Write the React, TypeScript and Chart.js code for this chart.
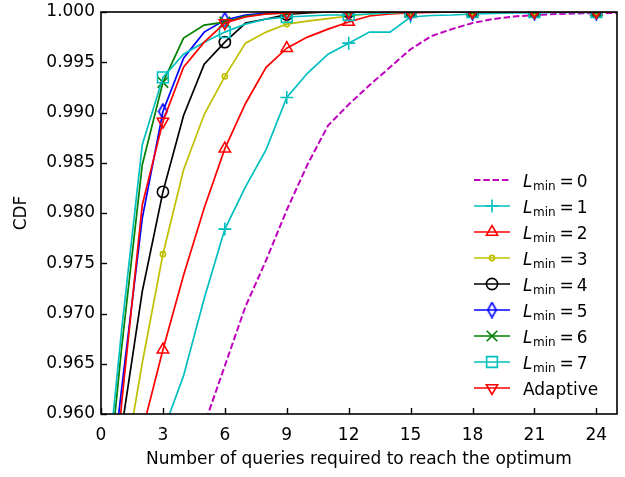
import React, { useEffect, useRef } from "react";
import { Chart, registerables } from "chart.js";
import { drawPoint } from "chart.js/helpers";

Chart.register(...registerables);

const queries = [0, 1, 2, 3, 4, 5, 6, 7, 8, 9, 10, 11, 12, 13, 14, 15, 16, 17, 18, 19, 20, 21, 22, 23, 24, 25];
const xTicks = [0, 3, 6, 9, 12, 15, 18, 21, 24];
const yTicks = [0.96, 0.965, 0.97, 0.975, 0.98, 0.985, 0.99, 0.995, 1.0];

const cdfLmin0 = [0.905, 0.915, 0.926, 0.938, 0.951, 0.9589, 0.9648, 0.9707, 0.9753, 0.9803, 0.9848, 0.9887, 0.9908, 0.9927, 0.9945, 0.9963, 0.9976, 0.9983, 0.9989, 0.9993, 0.99955, 0.9997, 0.9998, 0.99985, 0.9999, 0.9999];
const cdfLmin1 = [0.915, 0.928, 0.943, 0.9582, 0.9638, 0.9715, 0.9784, 0.9826, 0.9863, 0.9915, 0.9939, 0.9958, 0.9969, 0.998, 0.998, 0.9995, 0.99965, 0.9997, 0.9998, 0.99985, 0.9999, 0.9999, 0.99995, 0.99995, 0.99995, 1.0];
const cdfLmin2 = [0.918, 0.94, 0.9583, 0.9664, 0.9738, 0.9805, 0.9864, 0.9909, 0.9945, 0.9964, 0.9975, 0.9983, 0.999, 0.9996, 0.9998, 0.9999, 0.99995, 1.0, 1.0, 1.0, 1.0, 1.0, 1.0, 1.0, 1.0, 1.0];
const cdfLmin3 = [0.935, 0.953, 0.9651, 0.9759, 0.9843, 0.9898, 0.9936, 0.9969, 0.998, 0.9988, 0.9991, 0.99935, 0.9996, 0.9998, 0.9999, 1.0, 1.0, 1.0, 1.0, 1.0, 1.0, 1.0, 1.0, 1.0, 1.0, 1.0];
const cdfLmin4 = [0.94, 0.9585, 0.9722, 0.9821, 0.9897, 0.9948, 0.997, 0.9989, 0.9993, 0.99975, 0.9999, 1.0, 1.0, 1.0, 1.0, 1.0, 1.0, 1.0, 1.0, 1.0, 1.0, 1.0, 1.0, 1.0, 1.0, 1.0];
const cdfLmin5 = [0.945, 0.9625, 0.9795, 0.9901, 0.9954, 0.998, 0.9992, 0.9997, 0.9999, 1.0, 1.0, 1.0, 1.0, 1.0, 1.0, 1.0, 1.0, 1.0, 1.0, 1.0, 1.0, 1.0, 1.0, 1.0, 1.0, 1.0];
const cdfLmin6 = [0.946, 0.9666, 0.9848, 0.993, 0.9974, 0.9987, 0.999, 0.9996, 0.9998, 0.9999, 1.0, 1.0, 1.0, 1.0, 1.0, 1.0, 1.0, 1.0, 1.0, 1.0, 1.0, 1.0, 1.0, 1.0, 1.0, 1.0];
const cdfLmin7 = [0.9477, 0.9684, 0.9868, 0.9935, 0.9958, 0.997, 0.998, 0.9988, 0.9993, 0.9995, 0.9996, 0.9997, 0.9997, 0.9998, 0.9999, 1.0, 1.0, 1.0, 1.0, 1.0, 1.0, 1.0, 1.0, 1.0, 1.0, 1.0];
const cdfAdaptive = [0.935, 0.9611, 0.9808, 0.9891, 0.9945, 0.997, 0.9989, 0.9995, 0.9998, 0.9999, 1.0, 1.0, 1.0, 1.0, 1.0, 1.0, 1.0, 1.0, 1.0, 1.0, 1.0, 1.0, 1.0, 1.0, 1.0, 1.0];

const seriesNames = ["0", "1", "2", "3", "4", "5", "6", "7", "Adaptive"];
const seriesValues = [cdfLmin0, cdfLmin1, cdfLmin2, cdfLmin3, cdfLmin4, cdfLmin5, cdfLmin6, cdfLmin7, cdfAdaptive];

const FONT = '"DejaVu Sans", sans-serif';

export default function App() {
  const ref = useRef<HTMLCanvasElement>(null);

  useEffect(() => {
    document.body.style.margin = "0";
    const diamond = document.createElement("canvas");
    diamond.width = 11;
    diamond.height = 17;
    const dctx = diamond.getContext("2d")!;
    dctx.strokeStyle = "#0000ff";
    dctx.lineWidth = 1.6;
    dctx.beginPath();
    dctx.moveTo(5.5, 1);
    dctx.lineTo(9.7, 8.5);
    dctx.lineTo(5.5, 16);
    dctx.lineTo(1.3, 8.5);
    dctx.closePath();
    dctx.stroke();

    const styles: any[] = [
      { color: "#bf00bf", style: false, r: 0, dash: [6.5, 2.8], width: 2 },
      { color: "#00bfbf", style: "cross", r: 6.5 },
      { color: "#ff0000", style: "triangle", r: 6.5 },
      { color: "#bfbf00", style: "circle", r: 2.6 },
      { color: "#000000", style: "circle", r: 5.6 },
      { color: "#0000ff", style: diamond, r: 6 },
      { color: "#008000", style: "crossRot", r: 7.5 },
      { color: "#00bfbf", style: "rect", r: 7.6 },
      { color: "#ff0000", style: "triangle", r: 6.5, rot: 180 },
    ];

    const datasets = seriesValues.map((vals, i) => {
      const s = styles[i];
      return {
        label: seriesNames[i],
        data: queries.map((q, k) => ({ x: q, y: vals[k] })),
        borderColor: s.color,
        backgroundColor: "rgba(0,0,0,0)",
        borderWidth: s.width || 1.7,
        borderDash: s.dash || [],
        pointStyle: s.style || "circle",
        pointRotation: s.rot || 0,
        pointBorderColor: s.color,
        pointBackgroundColor: "rgba(0,0,0,0)",
        pointBorderWidth: 1.6,
        pointRadius: (c: any) => (s.style && c.dataIndex > 0 && c.dataIndex % 3 === 0 ? s.r : 0),
        pointHoverRadius: 0,
        tension: 0,
        clip: 0,
        order: seriesValues.length - i,
        _mpl: s,
      };
    });

    const decor = {
      id: "decor",
      afterDraw(chart: any) {
        const { ctx, chartArea } = chart;
        const { left, right, top, bottom } = chartArea;
        const xs = chart.scales.x;
        const ys = chart.scales.y;
        ctx.save();
        ctx.strokeStyle = "#000";
        ctx.lineWidth = 1.4;
        ctx.setLineDash([]);
        xTicks.forEach((v) => {
          const px = Math.round(xs.getPixelForValue(v)) + 0.5;
          ctx.beginPath();
          ctx.moveTo(px, bottom);
          ctx.lineTo(px, bottom - 6);
          ctx.stroke();
        });
        yTicks.forEach((v) => {
          const py = Math.round(ys.getPixelForValue(v)) + 0.5;
          ctx.beginPath();
          ctx.moveTo(left, py);
          ctx.lineTo(left + 6, py);
          ctx.stroke();
        });
        ctx.lineWidth = 1.6;
        ctx.strokeRect(left, top, right - left, bottom - top);

        ctx.fillStyle = "#000";
        ctx.font = `17px ${FONT}`;
        ctx.textAlign = "center";
        ctx.textBaseline = "middle";
        ctx.fillText("Number of queries required to reach the optimum", (left + right) / 2, bottom + 46);
        ctx.save();
        ctx.translate(22, (top + bottom) / 2);
        ctx.rotate(-Math.PI / 2);
        ctx.fillText("CDF", 0, 0);
        ctx.restore();

        // legend
        const lx0 = right - 143;
        const lx1 = right - 107;
        const mx = (lx0 + lx1) / 2;
        const tx0 = right - 94;
        chart.data.datasets.forEach((ds: any, i: number) => {
          const s = ds._mpl;
          const y = bottom - 234 + i * 26;
          ctx.strokeStyle = s.color;
          ctx.lineWidth = s.width || 1.7;
          ctx.setLineDash(s.dash || []);
          ctx.beginPath();
          ctx.moveTo(lx0, y);
          ctx.lineTo(lx1, y);
          ctx.stroke();
          ctx.setLineDash([]);
          if (s.style) {
            ctx.fillStyle = "rgba(0,0,0,0)";
            ctx.lineWidth = 1.6;
            drawPoint(ctx, { pointStyle: s.style, radius: s.r, rotation: s.rot || 0, borderWidth: 1.6 } as any, mx, y);
          }
          ctx.fillStyle = "#000";
          ctx.textAlign = "left";
          ctx.textBaseline = "alphabetic";
          let tx = tx0;
          if (ds.label === "Adaptive") {
            ctx.font = `17px ${FONT}`;
            ctx.fillText("Adaptive", tx, y + 6.5);
          } else {
            ctx.font = `italic 17px ${FONT}`;
            ctx.fillText("L", tx, y + 6.5);
            tx += ctx.measureText("L").width + 0.5;
            ctx.font = `12px ${FONT}`;
            ctx.fillText("min", tx, y + 10);
            tx += ctx.measureText("min").width + 4;
            ctx.font = `17px ${FONT}`;
            ctx.fillText("=", tx, y + 6.5);
            tx += ctx.measureText("=").width + 3;
            ctx.fillText(ds.label, tx, y + 6.5);
          }
        });
        ctx.restore();
      },
    };

    const chart = new Chart(ref.current!, {
      type: "line",
      data: { datasets: datasets as any },
      options: {
        animation: false,
        responsive: false,
        events: [],
        layout: { padding: { top: 12, right: 8, left: 0, bottom: 0 } },
        plugins: { legend: { display: false }, tooltip: { enabled: false }, title: { display: false } },
        scales: {
          x: {
            type: "linear",
            min: 0,
            max: 25,
            afterBuildTicks: (s: any) => {
              s.ticks = xTicks.map((v) => ({ value: v }));
            },
            afterFit: (s: any) => {
              s.height = 63;
              s.paddingLeft = 0;
              s.paddingRight = 0;
            },
            ticks: { color: "#000", font: { family: FONT, size: 17 }, padding: 11, maxRotation: 0, autoSkip: false },
            grid: { display: false, drawTicks: false },
            border: { display: false },
          },
          y: {
            type: "linear",
            min: 0.96,
            max: 1.0,
            afterBuildTicks: (s: any) => {
              s.ticks = yTicks.map((v) => ({ value: v }));
            },
            afterFit: (s: any) => {
              s.width = 101;
              s.paddingTop = 0;
              s.paddingBottom = 0;
            },
            ticks: {
              color: "#000",
              font: { family: FONT, size: 17 },
              padding: 6,
              autoSkip: false,
              callback: (v: any) => Number(v).toFixed(3),
            },
            grid: { display: false, drawTicks: false },
            border: { display: false },
          },
        },
      },
      plugins: [decor],
    });
    return () => chart.destroy();
  }, []);

  return <canvas ref={ref} width={625} height={477} style={{ display: "block", width: "625px", height: "477px" }} />;
}
